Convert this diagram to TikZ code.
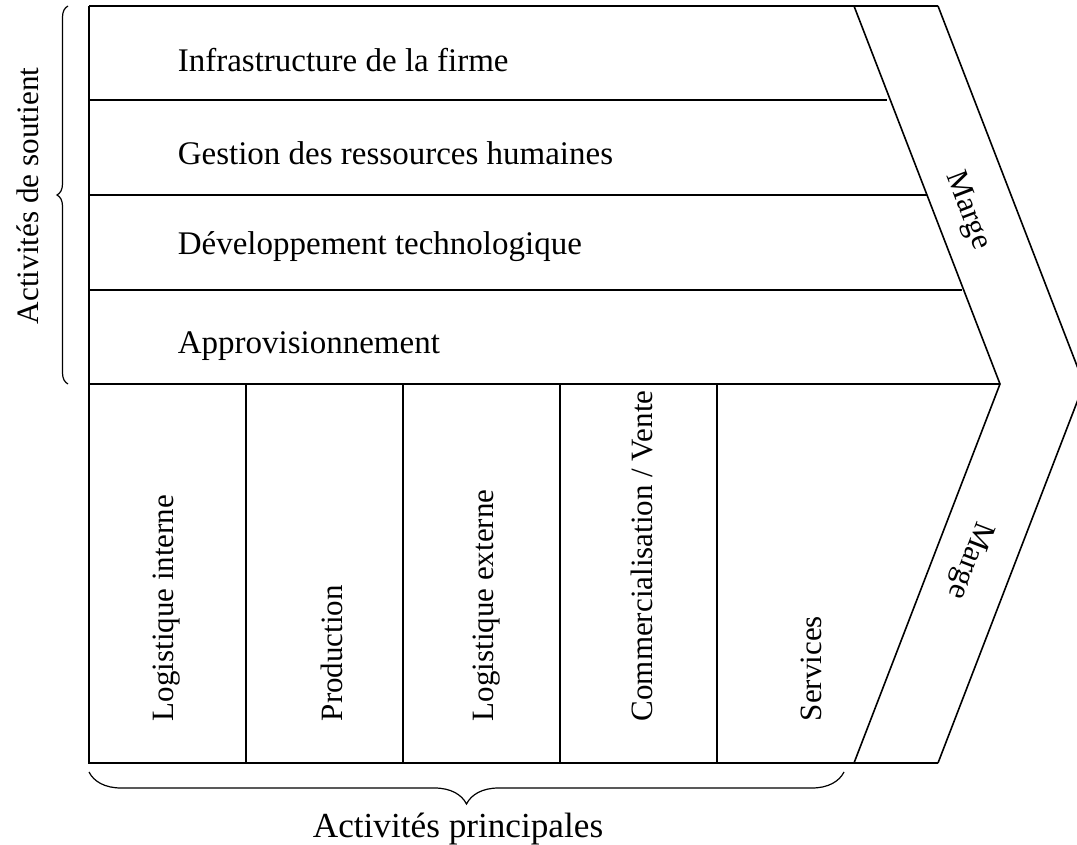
\documentclass[tikz,border=0pt]{standalone}
\usepackage{fontspec}
\setmainfont{Liberation Serif}
\usepackage{tikz}
\usetikzlibrary{decorations.pathreplacing}

\begin{document}
\begin{tikzpicture}[x=0.5pt,y=-0.5pt,line width=0.8pt,
  row/.style={anchor=base west,inner sep=0pt,font=\fontsize{16.5}{19}\selectfont},
  col/.style={rotate=90,anchor=base west,inner sep=0pt,font=\fontsize{15.5}{18}\selectfont},
  marge/.style={inner sep=0pt,font=\fontsize{15.5}{18}\selectfont},
  accolade/.style={decorate,decoration={brace,amplitude=#1},line width=0.6pt}]
\useasboundingbox (0,0) rectangle (1077,845);
% chaine de valeur
\draw (89,6)--(938,6);
\draw (89,6)--(89,763)--(938,763);
\draw (854,6)--(1000,384)--(854,763);
\begin{scope}
\clip (0,0) rectangle (1077,845);
\draw (938,6)--(1084,384)--(938,763);
\end{scope}
\draw (89,100)--(887,100);
\draw (89,195)--(927,195);
\draw (89,290)--(962,290);
\draw (89,384)--(1000,384);
\foreach \x in {246,403,560,717}
  \draw (\x,384)--(\x,763);
% activites de soutien
\node[row] (infra) at (177,72) {Infrastructure de la firme};
\node[row] (grh) at (177,165) {Gestion des ressources humaines};
\node[row] (devtech) at (177,255) {Développement technologique};
\node[row] (appro) at (177,354) {Approvisionnement};
% activites principales
\node[col] (loginterne) at (173,722) {Logistique interne};
\node[col] (prod) at (342,722) {Production};
\node[col] (logexterne) at (493,722) {Logistique externe};
\node[col] (vente) at (652,722) {Commercialisation / Vente};
\node[col] (services) at (821,722) {Services};
% marge
\node[marge,rotate=-69] (margehaut) at (967,211) {Marge};
\node[marge,rotate=-111] (margebas) at (969,560) {Marge};
% accolades
\draw[accolade=5.5pt] (68,384)--(68,6);
\node[rotate=90,inner sep=0pt,font=\fontsize{15.6}{19}\selectfont] (soutien) at (28,196) {Activités de soutient};
\draw[accolade=16pt] (844,772)--(89,772);
\node[inner sep=0pt,font=\fontsize{17.6}{20}\selectfont] (principales) at (458,829) {Activités principales};
\end{tikzpicture}
\end{document}
